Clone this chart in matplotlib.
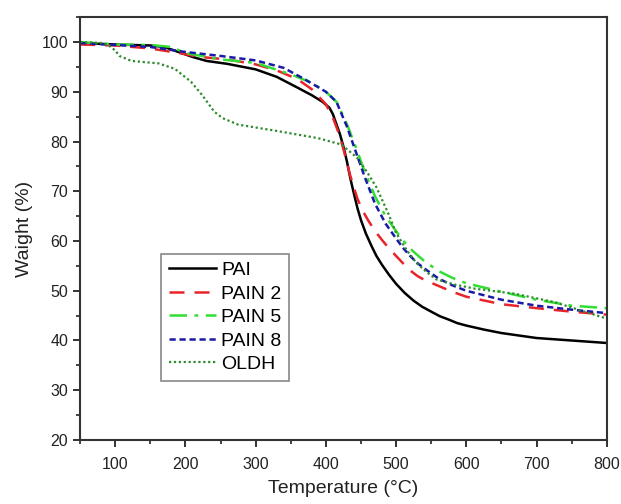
import matplotlib
matplotlib.use("Agg")
import matplotlib.pyplot as plt
from matplotlib.ticker import MultipleLocator

plt.rcParams['font.family'] = ['Liberation Sans', 'DejaVu Sans']

pai_T = [50, 100, 150, 170, 190, 210, 230, 260, 300, 330, 360, 380, 395, 405, 410, 415, 420, 425, 430, 435, 440, 445, 450, 457, 465, 472, 480, 490, 500, 512, 525, 537, 550, 562, 575, 587, 600, 625, 650, 700, 750, 800]
pai_W = [99.8, 99.5, 99.3, 99.0, 98.0, 97.0, 96.2, 95.6, 94.5, 93.0, 90.8, 89.3, 88.0, 86.8, 85.5, 83.5, 81.5, 79.0, 76.0, 72.5, 69.5, 66.6, 64.2, 61.5, 59.0, 57.0, 55.2, 53.2, 51.4, 49.6, 48.0, 46.8, 45.8, 44.9, 44.2, 43.5, 43.0, 42.2, 41.5, 40.5, 40.0, 39.5]

pain2_T = [50, 100, 150, 190, 220, 260, 300, 330, 360, 380, 400, 410, 418, 425, 435, 445, 452, 460, 470, 480, 490, 500, 510, 520, 530, 540, 560, 580, 600, 650, 700, 750, 800]
pain2_W = [99.5, 99.3, 98.7, 97.8, 97.0, 96.5, 95.5, 94.3, 92.5, 90.5, 87.5, 84.8, 81.8, 78.5, 73.0, 68.5, 66.2, 64.2, 62.0, 60.2, 58.5, 57.0, 55.5, 54.1, 53.0, 52.2, 51.0, 49.8, 48.8, 47.3, 46.5, 45.8, 45.2]

pain5_T = [50, 100, 150, 180, 200, 250, 300, 350, 380, 400, 415, 430, 445, 455, 470, 485, 500, 510, 520, 530, 540, 560, 580, 600, 650, 700, 750, 800]
pain5_W = [100.0, 99.5, 99.4, 99.0, 97.8, 96.5, 95.8, 93.5, 91.8, 90.0, 88.0, 83.5, 78.0, 74.0, 69.0, 65.0, 62.0, 60.1, 58.5, 57.2, 56.0, 54.0, 52.6, 51.5, 49.8, 48.2, 47.0, 46.5]

pain8_T = [50, 100, 150, 200, 250, 300, 340, 370, 400, 415, 430, 445, 455, 470, 485, 500, 510, 520, 530, 540, 560, 580, 600, 650, 700, 750, 800]
pain8_W = [99.8, 99.4, 99.0, 98.0, 97.2, 96.3, 94.8, 92.5, 90.0, 88.0, 83.0, 77.0, 73.0, 67.5, 63.5, 60.5, 58.6, 57.0, 55.6, 54.5, 52.5, 51.1, 50.0, 48.2, 47.0, 46.2, 45.5]

oldh_T = [50, 80, 90, 100, 106, 123, 162, 185, 208, 224, 241, 253, 275, 331, 388, 422, 444, 458, 472, 489, 500, 515, 529, 543, 557, 585, 613, 669, 726, 800]
oldh_W = [100.0, 99.8, 99.4, 98.3, 97.2, 96.2, 95.7, 94.6, 92.0, 89.3, 86.0, 84.7, 83.4, 82.1, 80.7, 79.4, 76.8, 74.0, 70.8, 65.5, 61.6, 58.2, 55.6, 53.8, 52.3, 51.2, 50.4, 49.4, 47.7, 44.4]

labels = ["PAI", "PAIN 2", "PAIN 5", "PAIN 8", "OLDH"]

fig = plt.figure(figsize=(6.21, 5.04), dpi=100)
ax = fig.add_axes([0.129, 0.127, 0.848, 0.839])

ax.plot(pai_T, pai_W, color='black', lw=1.8, ls='-', label=labels[0])
ax.plot(pain2_T, pain2_W, color='#e8242a', lw=1.8, ls=(0, (6, 4)), label=labels[1])
ax.plot(pain5_T, pain5_W, color='#33dd33', lw=1.8, ls=(0, (7, 3, 1.5, 3)), label=labels[2])
ax.plot(pain8_T, pain8_W, color='#1a1aa8', lw=1.8, ls=(0, (2.5, 1.5)), label=labels[3])
ax.plot(oldh_T, oldh_W, color='#2e8b2e', lw=1.6, ls=(0, (1, 1.2)), label=labels[4])

ax.set_xlim(50, 800)
ax.set_ylim(20, 105)
ax.xaxis.set_major_locator(MultipleLocator(100))
ax.xaxis.set_minor_locator(MultipleLocator(50))
ax.yaxis.set_minor_locator(MultipleLocator(5))
ax.set_yticks([20, 30, 40, 50, 60, 70, 80, 90, 100])
ax.tick_params(axis='both', which='major', direction='out', length=5, width=1.3, labelsize=11.5, colors='#222222')
ax.tick_params(axis='x', which='major', pad=7)
ax.tick_params(axis='both', which='minor', direction='out', length=3, width=1.2, colors='#222222')
for s in ax.spines.values():
    s.set_linewidth(1.5)
    s.set_color('#333333')

ax.set_xlabel("Temperature (°C)", fontsize=14, color='#222222', labelpad=6)
ax.set_ylabel("Waight (%)", fontsize=14, color='#222222', labelpad=6)

leg = ax.legend(loc='lower left', bbox_to_anchor=(0.154, 0.14), fontsize=14,
                handlelength=2.4, handletextpad=0.27, labelspacing=0.3,
                borderpad=0.4, borderaxespad=0, fancybox=False, framealpha=1, edgecolor='#888888')
leg.get_frame().set_linewidth(1.2)

fig.savefig("out.png", dpi=100)
